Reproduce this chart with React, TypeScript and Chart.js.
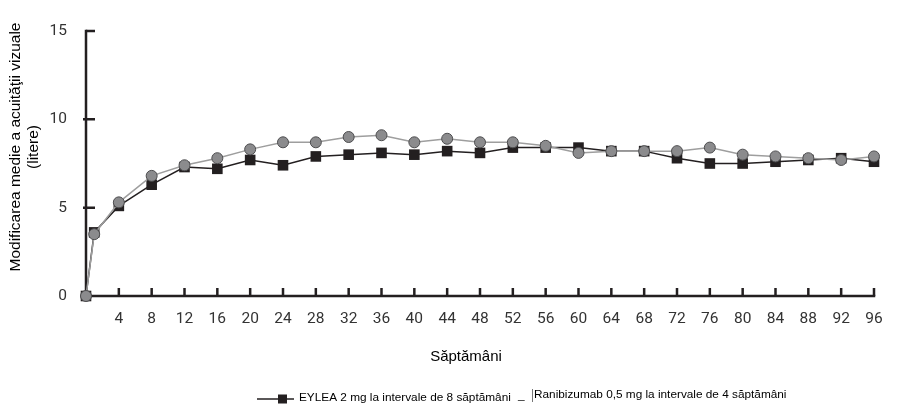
import React, { useEffect, useRef } from "react";
import { Chart, registerables } from "chart.js";

Chart.register(...registerables);

// Weeks of follow-up
const weeks = [0, 1, 4, 8, 12, 16, 20, 24, 28, 32, 36, 40, 44, 48, 52, 56, 60, 64, 68, 72, 76, 80, 84, 88, 92, 96];

// Mean change in visual acuity (letters)
const eyleaValues = [0, 3.6, 5.1, 6.3, 7.3, 7.2, 7.7, 7.4, 7.9, 8.0, 8.1, 8.0, 8.2, 8.1, 8.4, 8.4, 8.4, 8.2, 8.2, 7.8, 7.5, 7.5, 7.6, 7.7, 7.8, 7.6];
const ranibizumabValues = [0, 3.5, 5.3, 6.8, 7.4, 7.8, 8.3, 8.7, 8.7, 9.0, 9.1, 8.7, 8.9, 8.7, 8.7, 8.5, 8.1, 8.2, 8.2, 8.2, 8.4, 8.0, 7.9, 7.8, 7.7, 7.9];

const seriesLabels = [
  "EYLEA 2 mg la intervale de 8 săptămâni",
  "Ranibizumab 0,5 mg la intervale de 4 săptămâni",
];

const yTitleLines = ["Modificarea medie a acuităţii vizuale", "(litere)"];
const xTitle = "Săptămâni";

const yTicks = [0, 5, 10, 15];

const INK = "#231f20";
const TICK_INK = "#333333";
const GREY_FILL = "#8b8b8d";
const GREY_EDGE = "#4d4d4f";
const GREY_LINE = "#9e9e9e";
const TICK_FONT = "Roboto, 'Noto Sans', sans-serif";
const TEXT_FONT = "'Liberation Sans', Arial, sans-serif";

// Axes with inward tick marks, drawn beneath the series
const axesPlugin = {
  id: "axesPlugin",
  beforeDatasetsDraw(chart: any) {
    const { ctx, chartArea, scales } = chart;
    const x = scales.x;
    const y = scales.y;
    ctx.save();
    ctx.strokeStyle = INK;
    ctx.lineWidth = 2.5;
    ctx.lineCap = "butt";
    ctx.beginPath();
    ctx.moveTo(chartArea.left, y.getPixelForValue(15) - 1.25);
    ctx.lineTo(chartArea.left, chartArea.bottom);
    ctx.lineTo(x.getPixelForValue(96) + 1.25, chartArea.bottom);
    ctx.stroke();

    ctx.lineWidth = 2.5;
    ctx.beginPath();
    for (const v of yTicks) {
      if (v === 0) continue;
      const py = y.getPixelForValue(v);
      ctx.moveTo(chartArea.left - (v === 15 ? 0 : 3), py);
      ctx.lineTo(chartArea.left + 9, py);
    }
    for (let w = 4; w <= 96; w += 4) {
      const px = x.getPixelForValue(w);
      ctx.moveTo(px, chartArea.bottom);
      ctx.lineTo(px, chartArea.bottom - 8);
    }
    ctx.stroke();
    ctx.restore();
  },
};

// Axis titles and the legend row
const textPlugin = {
  id: "textPlugin",
  afterDraw(chart: any) {
    const { ctx, chartArea } = chart;
    ctx.save();
    ctx.fillStyle = "#000";
    ctx.textBaseline = "middle";
    ctx.textAlign = "center";

    // y title, rotated
    ctx.font = `15.5px ${TEXT_FONT}`;
    ctx.save();
    ctx.translate(16, 147);
    ctx.rotate(-Math.PI / 2);
    ctx.fillText(yTitleLines[0], 0, 0);
    ctx.fillText(yTitleLines[1], 0, 18);
    ctx.restore();

    // x title
    ctx.font = `15px ${TEXT_FONT}`;
    ctx.fillText(xTitle, 466, chartArea.bottom + 61);

    // legend
    const ly = 399;
    ctx.strokeStyle = INK;
    ctx.lineWidth = 1.5;
    ctx.beginPath();
    ctx.moveTo(257, ly);
    ctx.lineTo(294, ly);
    ctx.stroke();
    ctx.fillStyle = INK;
    ctx.fillRect(278, ly - 4.5, 9, 9);

    ctx.textAlign = "left";
    ctx.font = `11.8px ${TEXT_FONT}`;
    ctx.fillStyle = "#000";
    ctx.fillText(seriesLabels[0], 299, ly - 1);
    ctx.fillText("_", 518, ly - 3);
    ctx.strokeStyle = "#777";
    ctx.lineWidth = 1;
    ctx.beginPath();
    ctx.moveTo(532.5, 389);
    ctx.lineTo(532.5, 402);
    ctx.stroke();
    ctx.fillText(seriesLabels[1], 534, ly - 4);
    ctx.restore();
  },
};

export default function App() {
  const canvasRef = useRef<HTMLCanvasElement | null>(null);

  useEffect(() => {
    const canvas = canvasRef.current;
    if (!canvas) return;
    const chart = new Chart(canvas, {
      type: "line",
      data: {
        datasets: [
          {
            label: seriesLabels[0],
            data: weeks.map((w, i) => ({ x: w, y: eyleaValues[i] })),
            borderColor: INK,
            borderWidth: 1.5,
            backgroundColor: INK,
            pointStyle: "rect",
            pointRadius: 7.5,
            pointBorderWidth: 0,
            pointBackgroundColor: INK,
            pointBorderColor: INK,
            tension: 0,
            clip: false as any,
            order: 1,
          },
          {
            label: seriesLabels[1],
            data: weeks.map((w, i) => ({ x: w, y: ranibizumabValues[i] })),
            borderColor: GREY_LINE,
            borderWidth: 1.5,
            backgroundColor: GREY_FILL,
            pointStyle: "circle",
            pointRadius: 5.5,
            pointBorderWidth: 1,
            pointBackgroundColor: GREY_FILL,
            pointBorderColor: GREY_EDGE,
            tension: 0,
            clip: false as any,
            order: 0,
          },
        ],
      },
      options: {
        responsive: false,
        animation: false,
        events: [],
        layout: { padding: { top: 31, right: 45, left: 0, bottom: 0 } },
        plugins: {
          legend: { display: false },
          tooltip: { enabled: false },
          title: { display: false },
        },
        scales: {
          x: {
            type: "linear",
            min: 0,
            max: 96,
            grid: { display: false },
            border: { display: false },
            ticks: {
              stepSize: 4,
              autoSkip: false,
              maxRotation: 0,
              padding: 6,
              color: TICK_INK,
              font: { family: TICK_FONT, size: 15.5 },
              callback: (v: any) => (v === 0 ? "" : String(v)),
            },
            afterFit: (s: any) => {
              s.height = 118;
            },
          },
          y: {
            type: "linear",
            min: 0,
            max: 15,
            grid: { display: false },
            border: { display: false },
            ticks: {
              stepSize: 5,
              padding: 11,
              color: TICK_INK,
              font: { family: TICK_FONT, size: 15.5 },
            },
            afterFit: (s: any) => {
              s.width = 86;
            },
          },
        },
      },
      plugins: [axesPlugin, textPlugin],
    });
    return () => chart.destroy();
  }, []);

  return (
    <div style={{ position: "absolute", left: 0, top: 0, width: 919, height: 414, background: "#fff" }}>
      <canvas ref={canvasRef} width={919} height={414} />
    </div>
  );
}
